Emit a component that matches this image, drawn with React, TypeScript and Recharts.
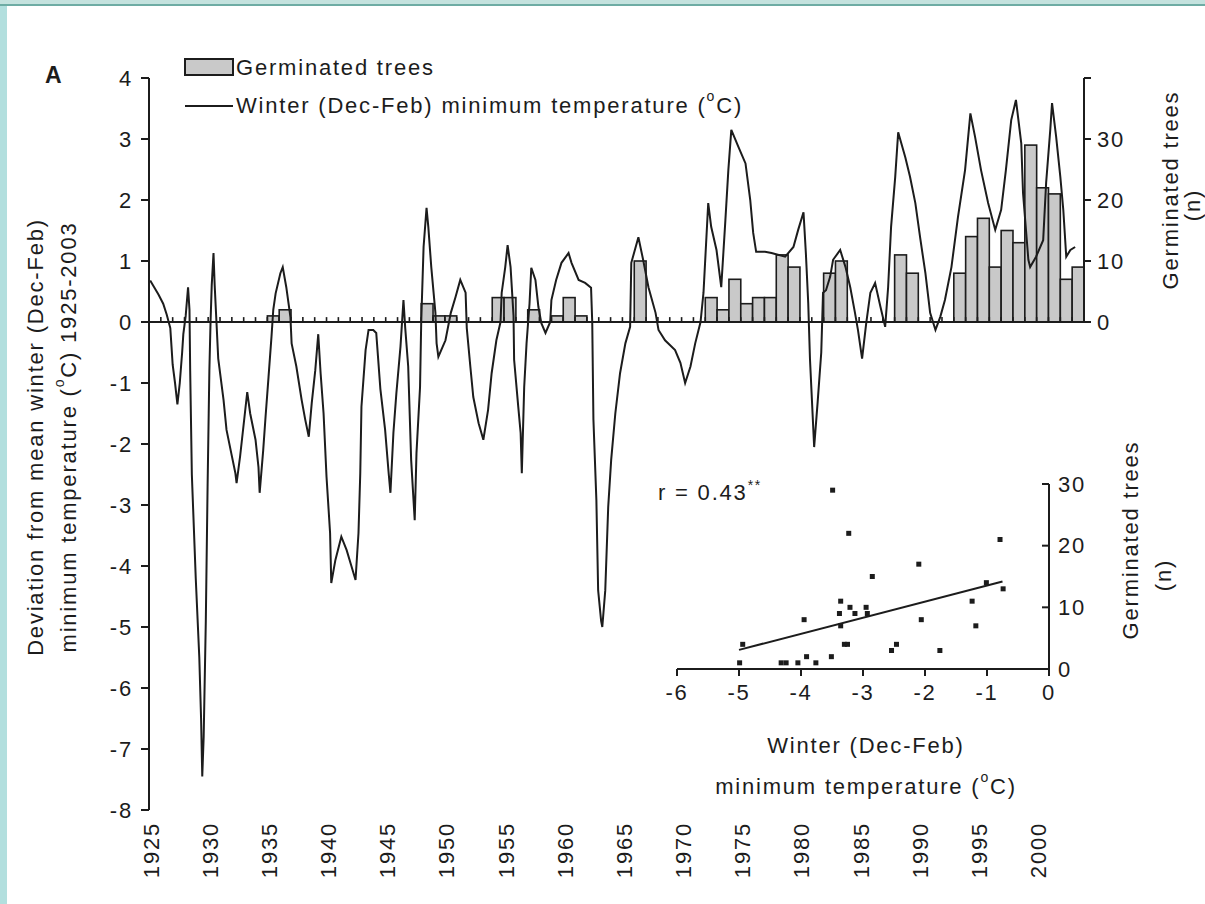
import React from 'react';
import {
    ComposedChart,
    Bar,
    Line,
    XAxis,
    YAxis,
    ReferenceLine,
    ScatterChart,
    Scatter,
} from 'recharts';

const FONT = '"Liberation Sans", Arial, Helvetica, sans-serif';
const INK = '#1c1c1c';
const BAR_FILL = '#c9c9c9';
const BAR_W = 11.83; // one year on the main x axis

// germinated trees per year, 1925-2003
const firstYear = 1925;
const treeCounts = [
    0, 0, 0, 0, 0, 0, 0, 0, 0, 0, // 1925-1934
    1, 2, 0, 0, 0, 0, 0, 0, 0, 0, // 1935-1944
    0, 0, 0, 3, 1, 1, 0, 0, 0, 4, // 1945-1954
    4, 0, 2, 0, 1, 4, 1, 0, 0, 0, // 1955-1964
    0, 10, 0, 0, 0, 0, 0, 4, 2, 7, // 1965-1974
    3, 4, 4, 11, 9, 0, 0, 8, 10, 0, // 1975-1984
    0, 0, 0, 11, 8, 0, 0, 0, 8, 14, // 1985-1994
    17, 9, 15, 13, 29, 22, 21, 7, 9, // 1995-2003
];

// winter minimum temperature deviation, [year, deg C]
const temp1920s = [
    [1925.1, 0.68], [1925.5, 0.55], [1925.8, 0.45], [1926.2, 0.3], [1926.5, 0.12],
    [1926.8, -0.1], [1926.9, -0.4], [1927.0, -0.7], [1927.2, -1.0], [1927.4, -1.35],
    [1927.6, -1.0], [1927.8, -0.5], [1927.9, -0.2], [1928.1, 0.1], [1928.3, 0.57],
    [1928.42, 0.2], [1928.48, -0.8], [1928.62, -2.5], [1928.95, -4.2], [1929.25, -5.5],
    [1929.4, -6.5], [1929.5, -7.45], [1929.62, -6.8], [1929.8, -4.9], [1929.95, -2.7],
];
const temp1930s = [
    [1930.1, -0.8], [1930.2, 0.0], [1930.3, 0.6], [1930.45, 1.13], [1930.55, 0.6],
    [1930.7, 0.0], [1930.85, -0.6], [1931.3, -1.28], [1931.55, -1.77], [1931.95, -2.15],
    [1932.3, -2.48], [1932.4, -2.64], [1932.7, -2.2], [1933.1, -1.5], [1933.3, -1.15],
    [1933.55, -1.5], [1934.0, -1.93], [1934.25, -2.38], [1934.35, -2.8], [1934.65, -2.1],
    [1934.85, -1.55], [1935.1, -0.9], [1935.35, -0.24], [1935.5, 0.2], [1935.7, 0.47],
    [1936.1, 0.8], [1936.3, 0.9], [1936.6, 0.57], [1936.95, 0.08], [1937.05, -0.35],
    [1937.45, -0.73], [1937.9, -1.28], [1938.2, -1.6], [1938.5, -1.88], [1938.75, -1.33],
    [1939.05, -0.79], [1939.3, -0.2], [1939.5, -0.84], [1939.75, -1.5],
];
const temp1940s = [
    [1940.0, -2.54], [1940.3, -3.46], [1940.4, -4.28], [1940.75, -3.9], [1941.25, -3.52],
    [1941.7, -3.74], [1942.1, -4.0], [1942.45, -4.23], [1942.7, -3.46], [1942.85, -2.48],
    [1942.95, -1.39], [1943.3, -0.46], [1943.55, -0.13], [1943.95, -0.13], [1944.2, -0.18],
    [1944.55, -1.1], [1944.95, -1.77], [1945.25, -2.48], [1945.4, -2.8], [1945.65, -1.82],
    [1945.9, -1.17], [1946.25, -0.4], [1946.5, 0.36], [1946.65, -0.1], [1946.9, -0.73],
    [1947.15, -2.26], [1947.45, -3.25], [1947.6, -2.15], [1947.9, -1.07], [1948.0, 0.0],
    [1948.2, 1.23], [1948.45, 1.87], [1948.6, 1.56], [1948.85, 0.9], [1949.2, 0.15],
    [1949.3, -0.35], [1949.45, -0.57],
];
const temp1950s = [
    [1950.05, -0.3], [1950.5, 0.15], [1950.9, 0.41], [1951.3, 0.69], [1951.75, 0.48],
    [1951.85, -0.1], [1952.15, -0.73], [1952.4, -1.23], [1952.85, -1.66], [1953.25, -1.93],
    [1953.65, -1.44], [1953.95, -0.84], [1954.35, -0.3], [1954.7, 0.0], [1954.8, 0.48],
    [1955.1, 0.9], [1955.3, 1.26], [1955.55, 0.9], [1955.8, 0.1], [1955.85, -0.62],
    [1956.2, -1.39], [1956.4, -1.82], [1956.5, -2.48], [1956.7, -1.07], [1956.9, -0.35],
    [1957.15, 0.3], [1957.3, 0.89], [1957.65, 0.69], [1957.9, 0.25], [1958.15, -0.02],
    [1958.5, -0.18], [1958.9, 0.0], [1959.0, 0.36], [1959.4, 0.69], [1959.85, 0.97],
];
const temp1960s = [
    [1960.45, 1.13], [1960.7, 0.97], [1961.3, 0.69], [1961.85, 0.64], [1962.35, 0.56],
    [1962.45, 0.0], [1962.55, -1.6], [1962.8, -2.92], [1962.95, -4.4], [1963.2, -4.9],
    [1963.3, -5.0], [1963.55, -4.4], [1963.8, -3.03], [1964.05, -2.26], [1964.4, -1.5],
    [1964.8, -0.84], [1965.25, -0.35], [1965.65, -0.08], [1965.75, 0.97], [1966.35, 1.39],
    [1966.75, 1.02], [1967.2, 0.57], [1967.8, 0.15], [1968.05, -0.13], [1968.6, -0.3],
    [1969.45, -0.46], [1969.9, -0.67],
];
const temp1970s = [
    [1970.3, -1.0], [1970.75, -0.73], [1971.15, -0.35], [1971.6, 0.0], [1971.85, 0.48],
    [1972.25, 1.95], [1972.5, 1.56], [1972.95, 1.18], [1973.35, 0.57], [1973.7, 1.67],
    [1973.95, 2.49], [1974.2, 3.15], [1974.8, 2.87], [1975.4, 2.6], [1975.8, 2.0],
    [1976.05, 1.46], [1976.3, 1.15], [1977.05, 1.15], [1977.6, 1.13], [1978.75, 1.07],
    [1979.45, 1.23], [1979.85, 1.51],
];
const temp1980s = [
    [1980.3, 1.8], [1980.5, 1.13], [1980.7, 0.31], [1980.85, -0.62], [1981.2, -2.05],
    [1981.5, -1.3], [1981.8, -0.5], [1981.95, 0.48], [1982.2, 0.52], [1982.55, 0.74],
    [1982.8, 1.02], [1983.4, 1.18], [1983.85, 0.9], [1984.25, 0.57], [1984.65, 0.15],
    [1984.9, -0.13], [1985.25, -0.6], [1985.6, -0.02], [1985.95, 0.48], [1986.35, 0.64],
    [1986.8, 0.25], [1987.2, -0.08], [1987.45, 0.57], [1987.7, 1.56], [1988.05, 2.38],
    [1988.3, 3.11], [1988.9, 2.7], [1989.3, 2.38], [1989.75, 1.95],
];
const temp1990s = [
    [1990.15, 1.39], [1990.6, 0.8], [1991.0, 0.15], [1991.45, -0.13], [1991.85, 0.08],
    [1992.25, 0.36], [1992.8, 0.9], [1993.35, 1.72], [1993.95, 2.49], [1994.4, 3.42],
    [1994.8, 3.03], [1995.3, 2.49], [1995.9, 1.95], [1996.5, 1.51], [1997.0, 1.84],
    [1997.4, 2.49], [1997.85, 3.31], [1998.25, 3.64], [1998.7, 2.93], [1998.85, 2.11],
    [1999.3, 1.02], [1999.45, 0.9], [1999.95, 1.07],
];
const temp2000s = [
    [2000.55, 1.34], [2000.8, 2.28], [2001.15, 3.15], [2001.3, 3.59], [2001.65, 3.03],
    [2002.0, 2.38], [2002.25, 1.84], [2002.5, 1.07], [2002.85, 1.18], [2003.25, 1.23],
];

const tempTicks = [-8, -7, -6, -5, -4, -3, -2, -1, 0, 1, 2, 3, 4];
const treeTicks = [0, 10, 20, 30, 40];
const yearTicks = [1925, 1930, 1935, 1940, 1945, 1950, 1955, 1960, 1965, 1970, 1975, 1980, 1985, 1990, 1995, 2000];

// inset: germinated trees against winter minimum temperature
const scatterTemp = [
    -3.49, -3.23, -0.79, -2.10, -2.85, -1.01, -0.74, -3.36, -1.24, -3.21, -3.38,
    -3.13, -2.95, -2.93, -3.95, -2.06, -3.36, -1.18, -4.94, -3.30, -3.25, -2.46,
    -2.54, -1.76, -4.99, -4.32, -4.24, -4.05, -3.91, -3.76, -3.51,
];
const scatterTrees = [
    29, 22, 21, 17, 15, 14, 13, 11, 11, 10, 9,
    9, 10, 9, 8, 8, 7, 7, 4, 4, 4, 4,
    3, 3, 1, 1, 1, 1, 2, 1, 2,
];
const insetTempTicks = [-6, -5, -4, -3, -2, -1, 0];
const insetTreeTicks = [0, 10, 20, 30];
const trendTemp = [-5.0, -0.75];
const trendTrees = [3.1, 14.2];

const barData = treeCounts.map((n, i) => ({ x: firstYear + i + 0.5, trees: n }));
const tempData = [
    ...temp1920s, ...temp1930s, ...temp1940s, ...temp1950s,
    ...temp1960s, ...temp1970s, ...temp1980s, ...temp1990s, ...temp2000s,
].map(([x, t]) => ({ x, temp: t }));
const yearBoundaries = treeCounts.map((_, i) => firstYear + i + 1);
const scatterData = scatterTemp.map((t, i) => ({ t, n: scatterTrees[i] }));

const textStyle = { fontFamily: FONT, fontSize: 22, fill: INK, letterSpacing: 1.8 };

const YearTick = ({ x, payload }: any) => (
    <text
        transform={`translate(${x + 2}, 822) rotate(-90)`}
        textAnchor="end"
        dominantBaseline="central"
        {...textStyle}
    >
        {payload.value}
    </text>
);

const TreeTick = ({ y, payload }: any) => (
    <g>
        <line x1={1084} x2={1091} y1={y} y2={y} stroke={INK} strokeWidth={2} />
        {payload.value < 40 && (
            <text x={1097} y={y} dominantBaseline="central" {...textStyle}>
                {payload.value}
            </text>
        )}
    </g>
);

const InsetTreeTick = ({ y, payload }: any) => (
    <g>
        <line x1={402} x2={409} y1={y} y2={y} stroke={INK} strokeWidth={2} />
        <text x={418} y={y} dominantBaseline="central" {...textStyle}>
            {payload.value}
        </text>
    </g>
);

// each bar fills its whole year, centred on the band the library gives it
const YearBar = ({ x, width, y, height }: any) => {
    if (!height) return <g />;
    const cx = x + width / 2;
    return (
        <rect
            x={cx - BAR_W / 2}
            y={y}
            width={BAR_W}
            height={height}
            fill={BAR_FILL}
            stroke={INK}
            strokeWidth={1.6}
        />
    );
};

const Dot = ({ cx, cy }: any) => <rect x={cx - 2.5} y={cy - 2.5} width={5} height={5} fill={INK} />;

const Degree = () => (
    <>
        (<tspan fontSize={14} dy={-9}>o</tspan>
        <tspan dy={9}>C)</tspan>
    </>
);

export default function App() {
    return (
        <div style={{ position: 'absolute', left: 0, top: 0, width: 1205, height: 904, background: '#fff', overflow: 'hidden' }}>
            {/* page frame */}
            <div style={{ position: 'absolute', left: 0, top: 0, width: 1205, height: 4, background: '#c4e2de' }} />
            <div style={{ position: 'absolute', left: 0, top: 4, width: 1205, height: 2, background: '#6eaca4' }} />
            <div style={{ position: 'absolute', left: 0, top: 6, width: 7, height: 898, background: '#b2dfde' }} />

            <div style={{ position: 'absolute', left: 0, top: 0 }}>
                <ComposedChart
                    width={1205}
                    height={904}
                    data={barData}
                    margin={{ top: 78, right: 61, bottom: 0, left: 89 }}
                >
                    <XAxis
                        type="number"
                        dataKey="x"
                        domain={[1925, 2004]}
                        ticks={yearTicks}
                        interval={0}
                        axisLine={false}
                        tickLine={false}
                        height={94}
                        tick={<YearTick />}
                        allowDataOverflow
                    />
                    <YAxis
                        yAxisId="left"
                        domain={[-8, 4]}
                        ticks={tempTicks}
                        interval={0}
                        width={60}
                        axisLine={{ stroke: INK, strokeWidth: 2 }}
                        tickLine={{ stroke: INK, strokeWidth: 2 }}
                        tickSize={8}
                        tickMargin={8}
                        tick={{ ...textStyle }}
                    />
                    <YAxis
                        yAxisId="right"
                        orientation="right"
                        domain={[-80, 40]}
                        ticks={treeTicks}
                        interval={0}
                        width={60}
                        axisLine={false}
                        tickLine={false}
                        tick={<TreeTick />}
                    />
                    <Bar
                        yAxisId="right"
                        dataKey="trees"
                        shape={<YearBar />}
                        isAnimationActive={false}
                    />
                    <ReferenceLine yAxisId="left" y={0} stroke={INK} strokeWidth={2} />
                    {yearBoundaries.map((yr) => (
                        <ReferenceLine
                            key={yr}
                            yAxisId="left"
                            segment={[{ x: yr, y: 0 }, { x: yr, y: 0.08 }]}
                            stroke={INK}
                            strokeWidth={1.6}
                        />
                    ))}
                    <ReferenceLine
                        yAxisId="right"
                        segment={[{ x: 2004, y: 0 }, { x: 2004, y: 40 }]}
                        stroke={INK}
                        strokeWidth={2}
                        ifOverflow="visible"
                    />
                    <Line
                        yAxisId="left"
                        data={tempData}
                        dataKey="temp"
                        type="linear"
                        stroke={INK}
                        strokeWidth={2}
                        dot={false}
                        isAnimationActive={false}
                    />
                </ComposedChart>
            </div>

            {/* inset regression */}
            <div style={{ position: 'absolute', left: 640, top: 460 }}>
                <ScatterChart width={480} height={250} margin={{ top: 24, right: 11, bottom: 0, left: 37 }}>
                    <XAxis
                        type="number"
                        dataKey="t"
                        domain={[-6, 0]}
                        ticks={insetTempTicks}
                        interval={0}
                        height={41}
                        axisLine={{ stroke: INK, strokeWidth: 2 }}
                        tickLine={{ stroke: INK, strokeWidth: 2 }}
                        tickSize={7}
                        tickMargin={8}
                        tick={{ ...textStyle }}
                    />
                    <YAxis
                        type="number"
                        dataKey="n"
                        orientation="right"
                        domain={[0, 30]}
                        ticks={insetTreeTicks}
                        interval={0}
                        width={60}
                        axisLine={{ stroke: INK, strokeWidth: 2 }}
                        tickLine={false}
                        tick={<InsetTreeTick />}
                    />
                    <ReferenceLine
                        segment={[{ x: trendTemp[0], y: trendTrees[0] }, { x: trendTemp[1], y: trendTrees[1] }]}
                        stroke={INK}
                        strokeWidth={2}
                    />
                    <Scatter data={scatterData} shape={<Dot />} isAnimationActive={false} />
                </ScatterChart>
            </div>

            {/* titles, legend and annotations */}
            <svg width={1205} height={904} style={{ position: 'absolute', left: 0, top: 0, pointerEvents: 'none' }}>
                <text x={45} y={75} dominantBaseline="central" {...textStyle} fontWeight="bold" fontSize={23}>A</text>

                <rect x={185} y={59} width={48} height={16} fill={BAR_FILL} stroke={INK} strokeWidth={2} />
                <text x={236} y={67} dominantBaseline="central" {...textStyle}>Germinated trees</text>
                <line x1={185} x2={233} y1={106} y2={106} stroke={INK} strokeWidth={2} />
                <text x={236} y={105} dominantBaseline="central" {...textStyle}>
                    Winter (Dec-Feb) minimum temperature <Degree />
                </text>

                <text transform="translate(35, 437) rotate(-90)" textAnchor="middle" dominantBaseline="central" {...textStyle}>
                    Deviation from mean winter (Dec-Feb)
                </text>
                <text transform="translate(68, 437) rotate(-90)" textAnchor="middle" dominantBaseline="central" {...textStyle}>
                    minimum temperature <Degree /> 1925-2003
                </text>

                <text transform="translate(1170, 190) rotate(-90)" textAnchor="middle" dominantBaseline="central" {...textStyle}>
                    Germinated trees
                </text>
                <text transform="translate(1192, 205) rotate(-90)" textAnchor="middle" dominantBaseline="central" {...textStyle}>
                    (n)
                </text>

                <text x={658} y={492} dominantBaseline="central" {...textStyle}>
                    r = 0.43<tspan fontSize={14} dy={-7}>**</tspan>
                </text>
                <text x={866} y={745} textAnchor="middle" dominantBaseline="central" {...textStyle}>
                    Winter (Dec-Feb)
                </text>
                <text x={866} y={786} textAnchor="middle" dominantBaseline="central" {...textStyle}>
                    minimum temperature <Degree />
                </text>
                <text transform="translate(1130, 540) rotate(-90)" textAnchor="middle" dominantBaseline="central" {...textStyle}>
                    Germinated trees
                </text>
                <text transform="translate(1163, 575) rotate(-90)" textAnchor="middle" dominantBaseline="central" {...textStyle}>
                    (n)
                </text>
            </svg>
        </div>
    );
}
